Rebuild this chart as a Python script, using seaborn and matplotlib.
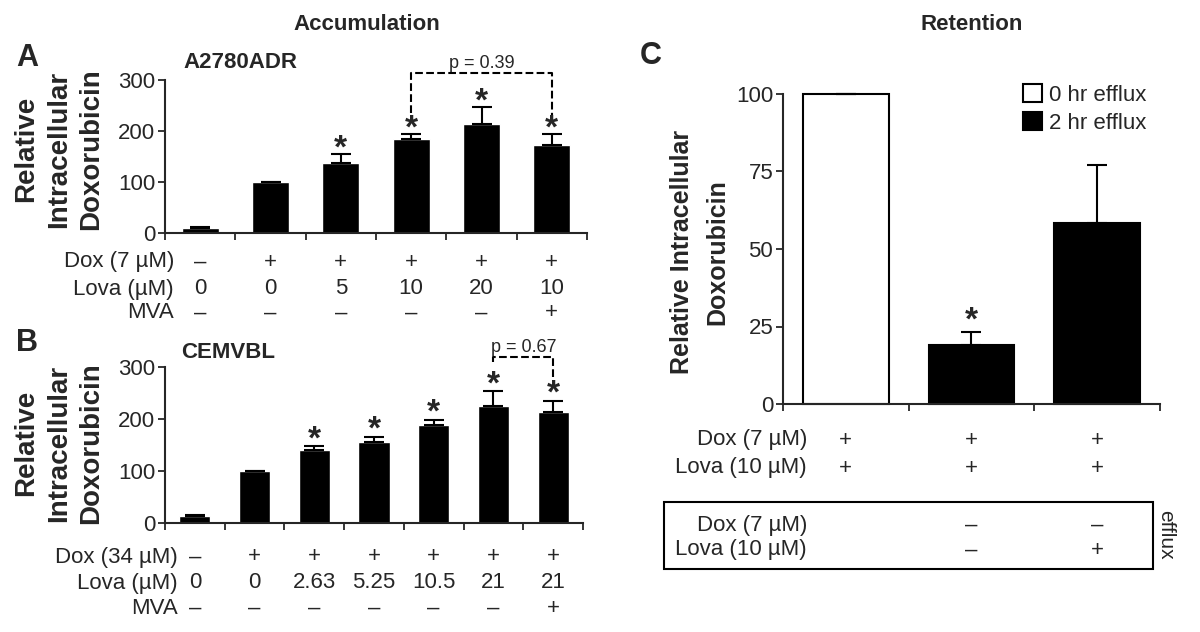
import numpy as np
import pandas as pd
import matplotlib
matplotlib.use('Agg')
import matplotlib.pyplot as plt
import matplotlib.transforms as mtransforms
from matplotlib.patches import Rectangle
import seaborn as sns

# Panel A: A2780ADR accumulation
a_vals = [9, 100, 137, 184, 213, 173]
a_err = [3, 0, 18, 10, 35, 21]
a_star = [False, False, True, True, True, True]
a_dox = ['–', '+', '+', '+', '+', '+']
a_lova = ['0', '0', '5', '10', '20', '10']
a_mva = ['–', '–', '–', '–', '–', '+']

# Panel B: CEMVBL accumulation
b_vals = [13, 100, 140, 155, 188, 225, 213]
b_err = [3, 0, 8, 11, 11, 28, 22]
b_star = [False, False, True, True, True, True, True]
b_dox = ['–', '+', '+', '+', '+', '+', '+']
b_lova = ['0', '0', '2.63', '5.25', '10.5', '21', '21']
b_mva = ['–', '–', '–', '–', '–', '–', '+']

# Panel C: retention
c_vals = [100, 19, 58.5]
c_err = [0, 4.3, 18.6]
c_star = [False, True, False]
c_group = ['0 hr efflux', '2 hr efflux', '2 hr efflux']
c_dox = ['+', '+', '+']
c_lova = ['+', '+', '+']
c_eff_dox = ['', '–', '–']
c_eff_lova = ['', '–', '+']

sns.set_style('ticks')
plt.rcParams['font.family'] = ['Liberation Sans', 'DejaVu Sans']

W, H = 1200, 632
fig = plt.figure(figsize=(W / 100, H / 100), dpi=100)


def fx(x):
    return x / W


def fy(y):
    return 1 - y / H


def style_axes(ax, n, ymax, yticks, fs):
    sns.despine(ax=ax)
    ax.set_xlim(-0.5, n - 0.5)
    ax.set_ylim(0, ymax)
    ax.set_xticks(np.arange(-0.5, n, 1.0))
    ax.set_xticklabels([])
    ax.set_yticks(yticks)
    ax.tick_params(direction='out', length=5, width=1.3, labelsize=fs, pad=2)
    for s in ['left', 'bottom']:
        ax.spines[s].set_linewidth(1.5)
    ax.set_xlabel('')
    ax.set_ylabel('')


def add_errors(ax, vals, err, stars, off):
    x = np.arange(len(vals))
    ax.errorbar(x, vals, yerr=[np.zeros(len(err)), err], fmt='none', ecolor='black',
                elinewidth=1.5, capsize=7, capthick=1.5, clip_on=False)
    for i, (v, e, s) in enumerate(zip(vals, err, stars)):
        if s:
            ax.annotate('*', xy=(i, v + e), xytext=(0, off), textcoords='offset points',
                        ha='center', va='center', fontsize=24, fontweight='bold')


def table_rows(ax, rows, labels, ys, lab_x, fs):
    tr = mtransforms.blended_transform_factory(ax.transData, fig.transFigure)
    for row, lab, y in zip(rows, labels, ys):
        fig.text(fx(lab_x), fy(y), lab, ha='right', va='center', fontsize=fs)
        for i, t in enumerate(row):
            ax.text(i, fy(y), t, transform=tr, ha='center', va='center', fontsize=fs)


def ylabel_lines(lines, xs, y, fs):
    for t, x in zip(lines, xs):
        fig.text(fx(x), fy(y), t, rotation=90, ha='center', va='center', fontsize=fs,
                 fontweight='bold')


# ---- Panel A
axA = fig.add_axes([fx(165), fy(233), fx(587 - 165), (233 - 80) / H])
dfA = pd.DataFrame({'cond': range(len(a_vals)), 'val': a_vals})
sns.barplot(data=dfA, x='cond', y='val', color='black', saturation=1, width=0.53,
            errorbar=None, ax=axA)
style_axes(axA, len(a_vals), 300, [0, 100, 200, 300], 16)
add_errors(axA, a_vals, a_err, a_star, 3.5)
axA.plot([3, 3, 5, 5], [235, 314, 314, 232], ls='--', color='black', lw=1.5, clip_on=False)
axA.text(4, 332, 'p = 0.39', ha='center', va='center', fontsize=13)
table_rows(axA, [a_dox, a_lova, a_mva], ['Dox (7 µM)', 'Lova (µM)', 'MVA'],
           [262, 289, 313], 174, 16)

# ---- Panel B
axB = fig.add_axes([fx(165), fy(523), fx(583 - 165), (523 - 367) / H])
dfB = pd.DataFrame({'cond': range(len(b_vals)), 'val': b_vals})
sns.barplot(data=dfB, x='cond', y='val', color='black', saturation=1, width=0.52,
            errorbar=None, ax=axB)
style_axes(axB, len(b_vals), 300, [0, 100, 200, 300], 16)
add_errors(axB, b_vals, b_err, b_star, 4.5)
axB.plot([5, 5, 6, 6], [310, 319, 319, 278], ls='--', color='black', lw=1.5, clip_on=False)
axB.text(5.5, 338, 'p = 0.67', ha='center', va='center', fontsize=13)
table_rows(axB, [b_dox, b_lova, b_mva], ['Dox (34 µM)', 'Lova (µM)', 'MVA'],
           [557, 583, 608], 178, 16)

# ---- Panel C
axC = fig.add_axes([fx(783), fy(404), fx(1160 - 783), (404 - 94) / H])
dfC = pd.DataFrame({'cond': range(len(c_vals)), 'val': c_vals, 'efflux': c_group})
sns.barplot(data=dfC, x='cond', y='val', hue='efflux',
            palette={'0 hr efflux': 'white', '2 hr efflux': 'black'}, dodge=False,
            saturation=1, width=0.68, edgecolor='black', linewidth=1.5,
            errorbar=None, ax=axC)
for p in axC.patches:
    p.set_clip_on(False)
style_axes(axC, len(c_vals), 100, [0, 25, 50, 75, 100], 16)
add_errors(axC, c_vals, c_err, c_star, 7.5)
axC.legend(loc='upper right', bbox_to_anchor=(fx(1146), fy(84)), bbox_transform=fig.transFigure,
           frameon=False, fontsize=16, handlelength=0.85, handleheight=0.85,
           handletextpad=0.3, labelspacing=0.3, borderpad=0, borderaxespad=0)
table_rows(axC, [c_dox, c_lova], ['Dox (7 µM)', 'Lova (10 µM)'], [440, 468], 807, 16)
table_rows(axC, [c_eff_dox, c_eff_lova], ['Dox (7 µM)', 'Lova (10 µM)'], [525, 550], 807, 16)
fig.add_artist(Rectangle((fx(664), fy(569)), fx(1153 - 664), (569 - 502) / H,
                         transform=fig.transFigure, fill=False, lw=1.5, ec='black'))
fig.text(fx(1166), fy(535), 'efflux', rotation=270, ha='center', va='center', fontsize=15)

# ---- labels and titles
ab_lines = ['Relative', 'Intracellular', 'Doxorubicin']
ylabel_lines(ab_lines, [26, 59, 91], 149, 20)
ylabel_lines(ab_lines, [26, 59, 91], 443, 20)
ylabel_lines(['Relative Intracellular', 'Doxorubicin'], [682, 717], 252, 18)

fig.text(fx(367), fy(25), 'Accumulation', ha='center', va='center', fontsize=16, fontweight='bold')
fig.text(fx(972), fy(25), 'Retention', ha='center', va='center', fontsize=16, fontweight='bold')
fig.text(fx(27), fy(58), 'A', ha='center', va='center', fontsize=22, fontweight='bold')
fig.text(fx(27), fy(343), 'B', ha='center', va='center', fontsize=22, fontweight='bold')
fig.text(fx(651), fy(56), 'C', ha='center', va='center', fontsize=22, fontweight='bold')
fig.text(fx(183), fy(63), 'A2780ADR', ha='left', va='center', fontsize=16, fontweight='bold')
fig.text(fx(181), fy(353), 'CEMVBL', ha='left', va='center', fontsize=16, fontweight='bold')

fig.savefig('out.png', dpi=100)
